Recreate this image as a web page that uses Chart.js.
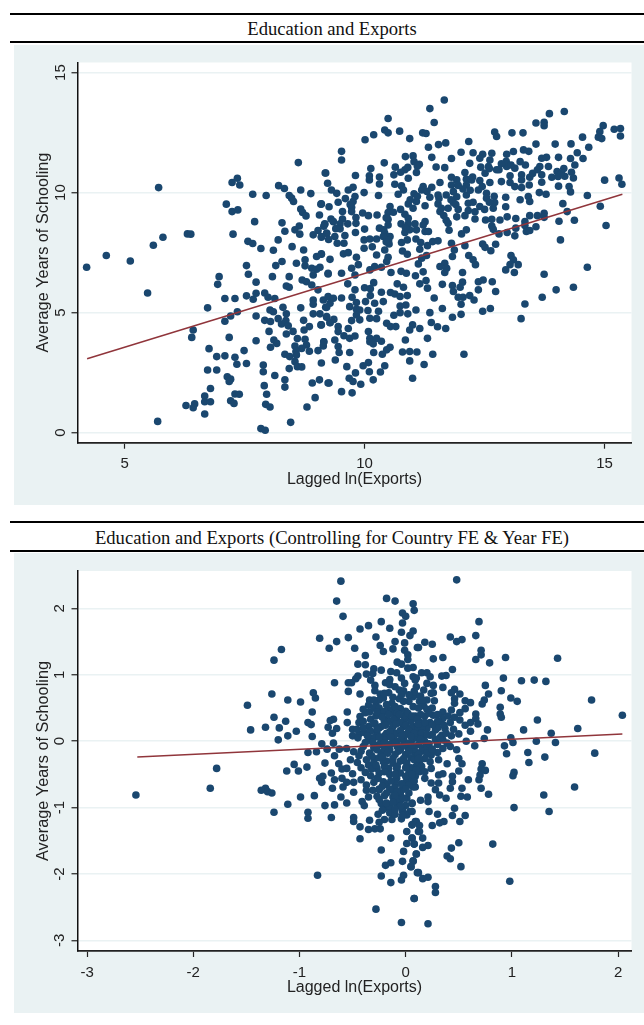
<!DOCTYPE html>
<html>
<head>
<meta charset="utf-8">
<title>Education and Exports</title>
<script src="https://cdn.jsdelivr.net/npm/chart.js@4/dist/chart.umd.min.js"></script>
<style>
  html, body { margin: 0; padding: 0; background: #fff; overflow: hidden; }
  #page { position: relative; width: 644px; height: 1025px; }
  .rule { position: absolute; left: 10px; right: 0; height: 2px; background: #000; }
  .heading { position: absolute; left: 20px; right: 0; text-align: center;
             font: 18.6px "Liberation Serif", serif; color: #111; white-space: nowrap; }
  .panel { position: absolute; left: 14px; right: 0; height: 460px; background: #eaf2f3; }
  canvas { position: absolute; left: 0; }
</style>
</head>
<body>
<div id="page">
  <div class="rule" style="top:13px"></div>
  <div class="heading" style="top:18px">Education and Exports</div>
  <div class="rule" style="top:41px"></div>
  <div class="panel" style="top:45px"></div>
  <canvas id="chartTop" width="644" height="460" style="top:45px" role="img" aria-label="Education and Exports"></canvas>

  <div class="rule" style="top:521px"></div>
  <div class="heading" style="top:527px">Education and Exports (Controlling for Country FE &amp; Year FE)</div>
  <div class="rule" style="top:550px"></div>
  <div class="panel" style="top:553px"></div>
  <canvas id="chartBottom" width="644" height="460" style="top:553px" role="img" aria-label="Education and Exports, controlling for fixed effects"></canvas>
</div>

<script>
/* values: [lagged ln exports, years of schooling] */
const X_LABEL = "Lagged ln(Exports)";
const Y_LABEL = "Average Years of Schooling";

const xTicksTop = [5, 10, 15];
const yTicksTop = [0, 5, 10, 15];
const fitLineTop = [[4.22, 3.08], [15.37, 9.93]];
const pointsTop = [
[8.62,11.25],[9.19,10.82],[7.35,10.6],[7.24,10.42],[7.4,10.32],[5.71,10.21],[8.21,10.29],[8.33,10.17],[8.67,10.11],[8.88,9.96],[7.67,9.93],[7.95,9.88],[8.43,9.88],[8.48,9.77],[8.52,9.63],[7.12,9.52],[9.09,9.52],[7.24,9.21],[7.36,9.28],[8.67,9.32],[8.71,9.17],[8.78,9.03],[9.06,9.07],[7.71,8.79],[8.28,8.74],[9.17,8.7],[8.64,8.61],[8.55,8.45],[8.34,8.39],[9.03,8.42],[7.26,8.27],[6.31,8.28],[6.38,8.27],[8.65,8.27],[5.8,8.14],[8.93,8.24],[9.1,8.14],[9.21,8.31],[8.2,8.03],[7.57,7.97],[7.67,7.88],[5.6,7.81],[8.49,7.75],[7.84,7.67],[8.1,7.6],[8.73,7.61],[4.62,7.38],[9.1,7.43],[9,7.34],[8.76,7.2],[5.12,7.15],
[4.21,6.89],[7.54,6.96],[8.15,6.96],[8.28,7.13],[8.58,7.06],[8.76,6.95],[8.9,6.85],[9,6.81],[9.07,6.89],[8.93,6.57],[9.24,6.61],[7.58,6.6],[8.08,6.5],[8.43,6.5],[6.97,6.5],[6.94,6.18],[7.74,6.27],[8.7,6.36],[8.79,6.29],[8.9,6.15],[8.37,6.11],[8.43,6.06],[5.48,5.82],[9.03,5.95],[7.74,5.81],[7.92,5.82],[7.54,5.7],[7.68,5.56],[7.99,5.64],[7.09,5.59],[7.3,5.59],[8.13,5.59],[8.93,5.53],[9.14,5.53],[9.24,5.67],[8.93,5.35],[8.3,5.22],[6.73,5.2],[8.67,5.2],[9.19,5.22],[8.03,5.11],[8.1,5.04],[7.35,5.04],[8.37,4.95],[8.93,4.95],[9.07,4.95],[7.21,4.86],[7.74,4.86],[9.21,4.81],[8.2,4.75],[7.09,4.64],[7.92,4.68],[8.04,4.63],[8.36,4.67],[8.73,4.68],[8.27,4.53],[9.09,4.49],[9.28,4.58],[8.41,4.45],[8.85,4.42],[6.43,4.28],[8.74,4.28],[8.01,4.22],[8.51,4.22],[8.37,4.11],[6.4,3.97],[7.18,3.97],[8.6,3.92],[8.76,3.89],[8.11,3.86],[7.74,3.83],[9.15,3.79],[8.17,3.72],[8.55,3.61],[8.79,3.65],[9.14,3.61],[8.04,3.56],[6.76,3.5],[8.69,3.51],[7.49,3.42],[8.85,3.39],[9.03,3.42],[8.57,3.38],[8.34,3.27],[8.44,3.17],[8.58,3.24],[6.92,3.17],[7.09,3.2],[7.3,3.14],[8.55,2.96],[9.1,2.9],[7.34,2.85],[7.54,2.88],[7.89,2.82],[8.6,2.75],[8.69,2.74],[8.43,2.67],[6.73,2.61],[6.92,2.61],[7.89,2.54],[8.13,2.38],[7.14,2.33],[7.21,2.23],[7.18,2.13],[8.34,2.2],[9.06,2.2],[8.91,2.07],[9.24,2.07],[7.91,1.96],[8.34,1.9],[6.79,1.84],[7.3,1.61],[7.39,1.6],[7.96,1.6],[6.67,1.53],[8.97,1.46],[6.67,1.29],[6.79,1.29],[7.21,1.33],[7.28,1.22],[7.94,1.18],[8.03,1.07],[6.46,1.2],[6.28,1.13],[6.43,1.04],[8.8,1.07],[6.67,0.78],[5.69,0.47],[8.46,0.43],[7.84,0.17],[7.93,0.1],
[11.66,13.86],[11.36,13.5],[11.45,12.92],[10.49,13.09],[10.42,12.61],[10.49,12.49],[10.73,12.56],[10.19,12.41],[10.01,12.2],[10.94,12.25],[11.21,12.49],[11.28,12.46],[11.33,11.89],[11.54,12],[11.69,12.07],[12.17,12.13],[9.52,11.72],[9.52,11.36],[12.71,12.52],[12.75,12.34],[13.07,12.49],[13.3,12.49],[13.57,12.9],[13.74,12.93],[13.74,12.79],[13.85,13.29],[14.16,13.38],[14.97,12.79],[14.9,12.54],[14.87,12.31],[14.94,12.25],[15.2,12.64],[15.33,12.67],[15.33,12.36],[14.54,12.31],[14.3,12.03],[13.97,12.02],[13.57,12.02],[14.67,11.89],[14.43,11.66],[14.29,11.42],[14.55,11.42],[14.04,11.47],[13.42,11.72],[13.31,11.78],[13.1,11.71],[12.96,11.6],[12.65,11.64],[12.46,11.6],[12.4,11.43],[12.26,11.66],[12.01,11.68],[11.81,11.42],[11.4,11.47],[11.01,11.53],[10.85,11.5],[11.03,11.29],[11.14,11.18],[10.41,11.24],[10.64,11.06],[10.13,11],[11.49,11.07],[11.67,11.04],[9.18,10.82],[9.81,10.71],[10.1,10.7],[10.31,10.65],[10.61,10.74],[10.84,10.95],[11.08,10.84],[10.91,10.6],[12.19,11.22],[12.42,11.06],[12.61,11.36],[12.58,11.09],[12.75,10.95],[12.96,11.09],[13.13,11.02],[13.24,11.29],[13.35,11.15],[13.69,11.43],[13.79,11.47],[13.65,11.09],[13.83,11.09],[14.01,10.88],[14.31,10.85],[14.38,11.15],[12.51,10.81],[12.09,10.84],[11.81,10.64],[11.92,10.53],[12.12,10.56],[12.23,10.53],[12.4,10.5],[12.61,10.42],[12.85,10.46],[13.03,10.7],[13.03,10.42],[13.27,10.74],[13.44,10.64],[13.27,10.53],[13.43,10.32],[13.13,10.25],[13.27,10.21],[13.69,10.43],[13.69,10.74],[13.9,10.64],[14.03,10.67],[14.17,10.68],[14.35,10.61],[14.04,10.27],[14.26,10.25],[14.29,10.03],[13.64,10],[13.78,9.93],[14.64,9.88],[15,10.52],[15.3,10.61],[15.36,10.35],[14.91,9.43],[14.13,9.54],[14.22,9.21],[15.03,8.63],[14.37,8.85],[14.05,8.81],[14.08,8.03],[14.64,6.89],[13.74,6.6],
[9.23,10.39],[9.31,10.11],[9.42,9.97],[9.66,10.11],[9.76,10.22],[9.99,10],[10.29,9.88],[10.1,10.53],[10.31,10.36],[10.63,10.35],[10.77,10.28],[10.81,10.11],[10.7,9.93],[11.03,9.95],[11.22,10.25],[11.4,10.22],[11.57,10.42],[11.19,10.11],[11.81,10.32],[11.85,10.04],[12.12,10.32],[12.37,10.11],[12.54,9.97],[11.92,9.83],[12.12,9.9],[11.53,9.9],[11.36,9.81],[9.8,9.84],[9.45,9.6],[9.1,9.53],[9.26,9.41],[9.76,9.63],[9.73,9.39],[10.53,9.42],[10.91,9.53],[11.08,9.63],[11.26,9.45],[11.53,9.53],[11.85,9.59],[12.16,9.56],[12.26,9.6],[12.54,9.77],[12.71,9.59],[12.94,9.81],[13.24,9.7],[13.44,9.63],[13.41,9.84],[12.94,9.41],[12.4,9.42],[12.68,9.35],[9.54,9.21],[9.73,9.21],[9.96,9.15],[10.08,9.04],[10.26,9.07],[10.49,9.17],[10.6,9.18],[10.84,9.1],[11.01,9.35],[11.57,9.21],[11.74,9.35],[11.92,8.99],[12.09,9.04],[12.3,8.9],[12.16,9.25],[12.52,8.86],[12.65,8.89],[12.82,8.86],[12.97,8.99],[13.15,8.92],[13.44,9.04],[13.6,9.04],[13.74,9.14],[13.74,8.97],[13.34,8.79],[9.3,8.9],[9.54,8.9],[9.82,8.96],[9.82,8.72],[9.49,8.7],[9.17,8.68],[9.65,8.7],[9.35,8.79],[10,8.48],[10.31,8.52],[10.49,8.89],[10.49,8.65],[10.76,8.7],[10.91,8.93],[10.91,8.7],[11.05,8.7],[11.26,8.79],[11.22,8.65],[11.74,8.72],[11.76,8.43],[12.65,8.61],[12.68,8.47],[13.15,8.52],[13.57,8.58],[13.34,8.63],[13.37,8.38],[13.44,8.42],[13.13,8.2],[12.97,8.34],[12.8,8.28],[12.12,8.45],[12.02,8.28],[9.81,8.34],[9.49,8.49],[9.21,8.31],[9.1,8.17],[9.38,8.17],[9.59,8.21],[10.42,8.31],[10.53,8.17],[10.84,8.34],[10.94,8.45],[11.08,8.45],[11.26,8.38],[11.33,8.38],[9.99,8.03],[10.11,8.07],[10.25,8.07],[10.39,8.17],[10.89,8.03],[10.77,7.92],[11.07,8.07],[11.17,7.92],[11.42,7.96],[11.53,7.99],[11.81,7.89],[12.09,7.79],[12.46,7.86],[12.51,7.72],[12.63,7.58],[12.73,7.85],[9.43,7.89],[9.57,7.89],[9.99,7.68],[10.16,7.74],[10.42,7.61],[10.51,7.86],[10.79,7.57],[10.89,7.43],[11.15,7.64],[11.31,7.79],[9.56,7.45],[9.66,7.5],[10.25,7.4],[11.87,7.61],[11.83,7.34],[11.29,7.38],[12.17,7.38],[13.05,7.38],[9.1,7.45],[9.28,7.22],[9.83,7.31],[10.49,7.31],[11.19,7.27],[12.26,7.2],[13.1,7.2],[11.12,7.03],[10.46,7.13],[12.31,7],[13.03,7],[13.2,7],[11.67,7.06],[9.87,7],[10.21,6.92],[9.73,6.85],[10.11,6.78],[10.35,6.89],[11.57,6.92],[11.71,6.85],[12.94,6.78],[13.12,6.67],[10.76,6.72],[10.87,6.64],[11.06,6.54],[11.22,6.7],[10.55,6.67],[9.24,6.64],[9.52,6.64],[9.8,6.57],[11.67,6.67],[12.04,6.67],
[9.65,6.2],[10.19,6.25],[10,6.04],[9.8,5.95],[10.12,6],[10.12,5.71],[10.35,5.85],[10.54,5.84],[10.68,6.2],[10.81,6.06],[10.63,5.78],[10.74,5.67],[10.89,5.71],[11.15,6.2],[11.28,6.34],[11.31,6.02],[11.62,6.18],[11.83,6.13],[12.04,6.27],[11.99,6.06],[11.85,5.88],[12.37,6.29],[12.47,6.36],[12.66,6.29],[12.37,5.95],[12.73,5.88],[11.95,5.64],[12.05,5.64],[12.19,5.71],[12.28,5.53],[11.45,5.61],[13.7,5.64],[13.99,5.95],[14.35,6.06],[13.34,5.36],[12.62,5.17],[12.46,5.06],[12.01,5.35],[12.01,4.93],[11.83,4.81],[11.62,5.17],[11.36,5],[11.07,5.11],[10.9,4.95],[10.86,5.32],[10.74,5.28],[10.74,5],[10.61,4.89],[13.26,4.75],[9.52,5.61],[9.35,5.6],[9.28,5.39],[9.21,5.22],[9.74,5.64],[10.02,5.46],[9.83,5.42],[9.69,5.25],[9.83,5.14],[9.9,5.11],[10.21,5.39],[10.39,5.46],[10.07,5.09],[10.29,5.06],[10.11,4.77],[10.25,4.75],[9.9,4.7],[9.73,4.67],[9.83,4.9],[9.21,4.84],[9.36,4.72],[9.28,4.59],[9.1,4.49],[9.45,4.42],[9.66,4.34],[9.45,4.21],[9.57,4.04],[9.69,3.93],[9.8,4.03],[9.38,3.86],[9.15,3.79],[9.45,3.59],[10.46,4.56],[10.54,4.42],[10.65,4.42],[11,4.49],[10.94,4.28],[11.15,4.34],[11.39,4.59],[11.52,4.41],[11.69,4.34],[10.08,4.21],[10.11,3.93],[10.35,3.81],[10.25,3.93],[10.11,3.79],[10.18,3.7],[10.53,3.56],[10.46,3.45],[10.37,3.27],[10.85,3.86],[11.31,3.93],[10.79,3.36],[10.94,3.38],[11.09,3.36],[11.42,3.27],[12.07,3.27],[10.19,3.34],[9.69,3.34],[9.47,3.34],[9.39,3.03],[10.94,2.99],[11.24,2.84],[10.08,2.92],[9.97,2.79],[10.42,2.79],[9.63,2.75],[10.1,2.54],[10.33,2.53],[9.81,2.49],[9.68,2.27],[11,2.27],[10.18,2.2],[9.76,2.13],[9.92,2.02],[9.26,2.07],[9.52,1.71],[9.74,1.66],
[11.7,9.9],[11.8,9.7],[11.9,9.5],[11.6,9.35],[11.65,9.05],[11.7,8.85],[11.95,9.3],[12.3,9.2],[12.5,9.3],[12.6,9.6],[12.7,9.85],[12.45,10.25],[12.2,10.1],[12.05,10.15],[11.95,10.3],[11.3,10.05],[11.1,9.85],[10.95,9.7],[10.75,9.3],[10.45,8.95],[10.4,8.45],[10.5,8.0],[10.45,7.95],[10.85,8.55],[9.7,9.5],[9.6,9.75],[9.4,8.5],[9.25,8.05],[9.15,8.6],[11.55,9.75],[12.25,10.65],[12.95,11.3],[13.05,11.15],[12.85,11.2],[12.8,10.95],[13.5,10.8],[13.6,10.95],[14.1,10.8],[14.15,11.0],[12.6,11.0],[11.1,11.1],[10.9,11.05],[10.75,10.85]
];

const xTicksBottom = [-3, -2, -1, 0, 1, 2];
const yTicksBottom = [-3, -2, -1, 0, 1, 2];
const fitLineBottom = [[-2.527, -0.238], [2.04, 0.108]];
const pointsBottom = [
[-2.54,-0.81],
[-0.61,2.41],[-0.65,2.11],[-0.18,2.15],[-0.1,2.11],[0.07,2.07],[-0.59,1.88],[0.08,1.97],[-0.03,1.93],[0,1.88],[-0.23,1.8],[-0.03,1.78],[-0.35,1.74],[-0.43,1.69],[-0.15,1.7],[-0.04,1.64],[0.07,1.66],[0.04,1.59],[-0.28,1.57],[-0.81,1.55],[-0.54,1.56],[-0.65,1.5],[-0.1,1.5],[-0.01,1.48],[-1.17,1.38],[-0.72,1.4],[-0.48,1.4],[-0.24,1.44],[-0.12,1.39],[-0.21,1.35],[-0.01,1.37],[0.11,1.41],[-1.24,1.22],[-0.38,1.29],[0.02,1.3],[0.02,1.23],[-0.45,1.16],[-0.38,1.15],[-0.08,1.19],[-0.04,1.16],[0.07,1.11],[0.02,1.1],[-0.3,1.09],[-0.23,1.07],[-0.14,1.05],[-0.085,1.03],[-0.37,1.01],[-0.31,1.02],[-0.45,0.98],[-0.47,0.94],[-0.33,0.92],[-0.04,0.95],[0.07,0.97],[-0.15,0.93],[-0.19,0.88],[-0.15,0.85],[-0.67,0.88],[-0.54,0.88],[-0.51,0.88],[-0.29,0.84],[-0.01,0.87],[0.09,0.92],[-0.54,0.75],[-0.43,0.71],[-0.29,0.76],[-0.24,0.71],[-0.16,0.73],[-0.06,0.77],[-0.02,0.76],[-0.87,0.73],[-1.26,0.71],[-0.85,0.65],[-1.11,0.62],[-0.99,0.59],[-1.49,0.54],[-0.34,0.62],[-0.21,0.65],[-0.06,0.64],[0.07,0.67],[-0.35,0.54],[-0.28,0.54],[-0.13,0.57],[-0.05,0.49],[0.07,0.52],[-0.88,0.44],[-0.55,0.44],[-0.34,0.44],[-0.24,0.41],[-0.15,0.47],[-0.1,0.42],[0.09,0.38],[-1.24,0.36],[-0.68,0.33],[-0.71,0.31],[-0.43,0.37],[-0.38,0.43],[-1.13,0.3],[-0.92,0.28],[-0.89,0.25],[-0.55,0.28],[-0.44,0.28],[-0.29,0.27],[-0.18,0.32],[-0.086,0.32],[0,0.34],[-1.32,0.21],[-1.19,0.2],[-0.73,0.21],[-0.65,0.19],[-0.5,0.18],[-0.35,0.22],[-0.23,0.22],[-0.13,0.19],[-0.02,0.22],[0.09,0.22],[-1.46,0.17],[-1.03,0.15],[-0.69,0.12],[-0.44,0.11],[-0.39,0.13],[-0.27,0.12],[-0.18,0.12],[-0.086,0.12],[0.02,0.12],[-1.11,0.08],[-0.88,0.07],[-0.5,0.08],[-1.2,0.02],[-0.68,-0.03],[-0.79,-0.04],[-0.34,0.02],[-0.23,0.02],[-0.12,0.04],[-0.02,0.02],[0.07,0.04],
[-0.92,-0.17],[-0.84,-0.16],[-0.74,-0.12],[-0.625,-0.12],[-0.556,-0.11],[-0.49,-0.16],[-0.67,-0.22],[-0.52,-0.28],[-0.455,-0.32],[-0.4,-0.08],[-0.34,-0.18],[-0.3,-0.26],[-0.23,-0.18],[-0.15,-0.13],[-0.05,-0.13],[0.07,-0.13],[-1.78,-0.41],[-1.05,-0.35],[-0.93,-0.39],[-0.76,-0.33],[-1.12,-0.45],[-1.01,-0.45],[-0.63,-0.34],[-0.6,-0.42],[-0.555,-0.41],[-0.5,-0.49],[-0.7,-0.48],[-0.38,-0.47],[-0.35,-0.36],[-0.27,-0.41],[-0.21,-0.31],[-0.16,-0.41],[-0.085,-0.41],[0.01,-0.33],[0.1,-0.38],[-0.81,-0.56],[-0.78,-0.53],[-0.79,-0.62],[-0.67,-0.58],[-0.6,-0.56],[-0.42,-0.58],[-0.555,-0.62],[-0.49,-0.62],[-0.27,-0.56],[-0.21,-0.61],[-0.085,-0.56],[0.04,-0.56],[-1.84,-0.71],[-1.32,-0.71],[-1.36,-0.74],[-1.3,-0.76],[-1.26,-0.78],[-0.69,-0.71],[-0.59,-0.69],[-0.37,-0.66],[-0.49,-0.77],[-0.37,-0.74],[-0.31,-0.74],[-0.25,-0.73],[-0.27,-0.83],[-0.13,-0.74],[-0.04,-0.74],[0.07,-0.69],[-0.99,-0.84],[-0.86,-0.82],[-0.61,-0.84],[-0.35,-0.84],[-0.12,-0.84],[-0.05,-0.89],[0.01,-0.86],[-1.11,-0.95],[-0.555,-0.93],[-0.41,-0.91],[-0.39,-0.97],[-0.23,-0.94],[0.06,-0.94],[-0.76,-0.97],[-0.67,-0.96],[-0.2,-1.01],[-0.15,-0.99],[-1.24,-1.07],[-0.92,-1.07],[-0.26,-1.1],[-0.15,-1.08],[0.04,-1.06],[0.01,-1.11],[-0.92,-1.16],[-0.7,-1.15],[-0.49,-1.15],[-0.49,-1.21],[-0.34,-1.19],[-0.2,-1.18],[-0.13,-1.18],[-0.04,-1.17],[0.1,-1.21],[-0.25,-1.22],[-0.43,-1.29],[-0.35,-1.33],[-0.29,-1.32],[-0.24,-1.32],[0.06,-1.26],[0.01,-1.36],[0.12,-1.36],[-0.43,-1.47],[-0.14,-1.46],[0.06,-1.46],[0.01,-1.54],[0.08,-1.55],[-0.23,-1.64],[-0.02,-1.66],[0.1,-1.7],[-0.19,-1.87],[-0.14,-1.83],[-0.03,-1.81],[0.07,-1.8],[0.05,-1.89],[-0.83,-2.02],[-0.23,-2.03],[-0.02,-2.02],[-0.04,-2.09],[-0.14,-2.13],[0.11,-1.98],[0.08,-2.37],[-0.28,-2.53],[-0.04,-2.73],
[0.48,2.43],[0.69,1.8],[0.66,1.59],[0.42,1.57],[0.48,1.5],[0.53,1.53],[0.18,1.49],[0.25,1.46],[0.12,1.41],[0.71,1.37],[0.71,1.3],[0.26,1.24],[0.35,1.26],[0.66,1.23],[0.79,1.18],[0.94,1.26],[1.43,1.25],[0.44,1.08],[0.15,1.03],[0.2,1.03],[0.34,0.98],[0.38,0.99],[0.23,0.97],[0.1,0.95],[0.92,0.95],[1.09,0.91],[1.21,0.92],[1.32,0.9],[0.2,0.87],[0.26,0.84],[0.35,0.81],[0.75,0.84],[0.9,0.76],[0.17,0.77],[0.46,0.78],[0.43,0.73],[0.26,0.73],[0.51,0.71],[0.78,0.71],[0.09,0.7],[0.99,0.65],[0.46,0.64],[0.56,0.61],[0.61,0.58],[0.74,0.62],[0.72,0.56],[0.27,0.61],[0.13,0.6],[0.46,0.57],[1.05,0.6],[1.75,0.62],[0.17,0.53],[0.89,0.51],[0.56,0.49],[0.43,0.47],[0.2,0.48],[0.35,0.44],[0.51,0.43],[0.89,0.41],[0.9,0.36],[0.66,0.41],[2.04,0.39],[1.24,0.32],[0.26,0.39],[0.66,0.34],[0.51,0.32],[0.35,0.34],[0.13,0.29],[0.23,0.28],[0.31,0.29],[0.42,0.28],[0.61,0.28],[0.68,0.26],[0.56,0.24],[0.77,0.17],[1.11,0.17],[1.62,0.19],[0.61,0.15],[0.2,0.19],[0.28,0.17],[0.37,0.19],[0.45,0.18],[1.37,0.12],[0.5,0.11],[0.1,0.17],[0.13,0.09],[0.23,0.09],[0.34,0.09],[0.43,0.08],[0.74,0.04],[0.99,0.05],[0.57,0],[1.23,0],[1.41,-0.02],[1.01,-0.02],[0.18,-0.01],[0.28,0.02],[0.39,-0.03],[0.65,-0.07],[0.93,-0.07],[0.17,-0.11],[0.23,-0.13],[0.35,-0.11],[0.48,-0.13],[1.15,-0.17],[1.78,-0.18],[0.95,-0.19],[1.31,-0.24],[0.09,-0.18],[0.24,-0.21],[0.42,-0.08],[0.5,-0.26],[0.31,-0.28],[0.13,-0.33],[0.23,-0.31],[0.39,-0.34],[0.53,-0.34],[0.72,-0.34],[1.16,-0.32],[0.24,-0.41],[0.71,-0.42],[0.75,-0.44],[0.5,-0.45],[0.13,-0.46],[0.31,-0.51],[0.35,-0.49],[1.02,-0.47],[1.01,-0.52],[0.7,-0.51],[0.44,-0.53],[0.44,-0.61],[0.59,-0.58],[0.69,-0.58],[0.18,-0.56],[0.09,-0.53],[0.24,-0.63],[0.31,-0.63],[0.09,-0.69],[0.42,-0.71],[0.53,-0.71],[0.71,-0.71],[1.59,-0.69],[0.28,-0.73],[0.32,-0.81],[0.78,-0.8],[1.3,-0.81],[0.52,-0.83],[0.58,-0.84],[0.21,-0.84],[0.38,-0.86],[0.14,-0.89],[0.21,-0.91],[0.06,-0.93],[1.02,-1],[0.46,-1.01],[1.35,-1.06],[0.06,-1.06],[0.22,-1.06],[0.3,-1.1],[0.44,-1.12],[0.56,-1.12],[0.51,-1.21],[0.36,-1.21],[0.32,-1.23],[0.09,-1.21],[0.25,-1.27],[0.06,-1.26],[0.13,-1.27],[0.13,-1.36],[0.16,-1.46],[0.06,-1.46],[0.5,-1.53],[0.82,-1.55],[0.08,-1.55],[0.21,-1.57],[0.16,-1.6],[0.43,-1.61],[0.1,-1.7],[0.39,-1.73],[0.42,-1.77],[0.07,-1.81],[0.52,-1.89],[0.05,-1.89],[0.12,-1.98],[0.21,-2.05],[0.16,-2.07],[0.98,-2.11],[0.28,-2.19],[0.28,-2.28],[0.08,-2.37],[0.21,-2.75],
[-0.3,0.5],[-0.25,0.5],[-0.2,0.45],[-0.18,0.55],[-0.1,0.52],[0,0.45],[0.03,0.6],[0.12,0.5],[-0.2,0.3],[-0.25,0.2],[-0.15,0.3],[-0.05,0.28],[0.05,0.3],[0.15,0.2],[0.18,0.38],[-0.3,0.05],[-0.2,0.08],[-0.1,0.1],[0,0.1],[0.1,0.05],[0.17,0.03],[0.25,0.1],[-0.25,-0.05],[-0.15,-0.05],[-0.08,0.0],[0.03,-0.03],[0.12,-0.05],[0.2,-0.08],[0.3,-0.05],[-0.3,-0.1],[-0.2,-0.12],[-0.1,-0.2],[0,-0.2],[0.05,-0.25],[0.15,-0.15],[0.3,-0.17],[-0.25,-0.25],[-0.18,-0.3],[-0.05,-0.3],[-0.3,-0.33],[-0.12,-0.33],[0.05,-0.4],[0.15,-0.38],[-0.25,-0.48],[-0.15,-0.5],[-0.05,-0.48],[0.03,-0.48],[-0.18,-0.65],[-0.1,-0.68],[0,-0.62],[0.08,-0.6],[-0.3,-0.62],[-0.2,-0.82],[-0.05,-0.8],[0.03,-0.78],[-0.08,-0.97],[0,-0.97],[-0.1,-1.1],[-0.03,-1.05],[-0.4,0.2],[-0.45,0.05],[-0.42,-0.15],[-0.33,0.33],[-0.12,0.66],[-0.08,0.42],[-0.02,0.6],[0.08,0.75],[0.14,0.68],[0.4,0.38],[0.46,0.36],[0.3,0.2],[0.15,0.12],[0.35,0.02],[0.08,-0.12],[-0.02,0.38],[-0.12,0.22],[-0.2,0.02],[-0.08,-0.08],[0.02,-0.1],[-0.32,-0.42],[-0.1,-0.6],[-0.25,-0.72],[-0.18,-0.93],[-0.08,-0.87],[-0.25,0.62],[-0.28,0.38],[0.2,0.62],[0.25,0.5],[0.3,0.4],[0.14,0.4],
[-0.27,0.44],[-0.22,0.36],[-0.16,0.4],[-0.11,0.33],[-0.06,0.4],[0.02,0.42],[0.06,0.38],[0.11,0.33],[-0.3,0.26],[-0.19,0.24],[-0.09,0.26],[0,0.24],[0.05,0.2],[0.12,0.26],[0.18,0.28],[-0.33,0.15],[-0.27,0.18],[-0.15,0.14],[-0.05,0.16],[0.03,0.16],[0.08,0.12],[0.2,0.1],[-0.36,0.08],[-0.25,0.06],[-0.14,0.06],[-0.04,0.08],[0.05,0.07],[0.14,0.03],[-0.31,-0.02],[-0.2,-0.03],[-0.1,-0.03],[-0.02,-0.06],[0.06,-0.06],[0.22,-0.04],[-0.27,-0.13],[-0.17,-0.18],[-0.07,-0.15],[0.03,-0.15],[0.12,-0.2],[0.2,-0.18],[-0.32,-0.22],[-0.22,-0.24],[-0.12,-0.26],[-0.02,-0.26],[0.08,-0.28],[0.18,-0.26],[-0.28,-0.36],[-0.2,-0.38],[-0.08,-0.38],[0,-0.4],[0.1,-0.43],[-0.33,-0.52],[-0.2,-0.46],[-0.1,-0.5],[0,-0.53],[0.06,-0.5],[-0.26,-0.56],[-0.14,-0.6],[-0.04,-0.64],[0.03,-0.66],[-0.22,-0.68],[-0.15,-0.72],[-0.08,-0.76],[0,-0.72],[-0.18,-0.78],[-0.1,-0.82],[-0.02,-0.86],[-0.25,-0.88],[-0.12,-0.92],[-0.05,-0.98],[-0.22,-1.04],[-0.1,-1.03],[-0.03,-1.12],[-0.4,0.48],[-0.4,0.3],[-0.46,0.18],[-0.38,-0.02],[-0.44,-0.22],[-0.37,-0.28],[-0.42,-0.4],[-0.3,0.62],[-0.2,0.72],[-0.1,0.82],[-0.04,0.7],[0.03,0.7],[0.1,0.82],[0.16,0.62],[0.24,0.72],[0.22,0.42],[0.3,0.3],[0.36,0.24],[0.25,0.25],[0.38,0.12],[0.32,0.05],[0.25,-0.12],[0.12,-0.26],[0.18,-0.46]
];

const NAVY = "#1a476f";
const CRANBERRY = "#90353b";
const PANEL = "#eaf2f3";
const SANS = '"Liberation Sans", Arial, sans-serif';

/* the plot region is white on the tinted panel */
const whitePlot = {
  id: "whitePlot",
  beforeDraw(chart) {
    const a = chart.chartArea, c = chart.ctx;
    c.save();
    c.fillStyle = "#fff";
    c.fillRect(a.left, a.top, a.right - a.left, a.bottom - a.top);
    c.restore();
  }
};

function makeChart(id, points, line, xTicks, yTicks, opt) {
  return new Chart(document.getElementById(id), {
    type: "scatter",
    plugins: [whitePlot],
    data: {
      datasets: [
        { data: line.map(p => ({ x: p[0], y: p[1] })), showLine: true, borderColor: CRANBERRY,
          borderWidth: 1.5, pointRadius: 0, fill: false },
        { data: points.map(p => ({ x: p[0], y: p[1] })), backgroundColor: NAVY, borderWidth: 0, pointRadius: 3.8 }
      ]
    },
    options: {
      responsive: false,
      animation: false,
      layout: { padding: { left: 14, right: 12.5, top: opt.top, bottom: 0 } },
      plugins: { legend: { display: false }, tooltip: { enabled: false } },
      scales: {
        x: {
          type: "linear", min: opt.xMin, max: opt.xMax,
          afterBuildTicks: s => { s.ticks = xTicks.map(v => ({ value: v })); },
          afterFit: s => { s.height = opt.xHeight; },
          grid: { drawOnChartArea: false, tickLength: 6, tickColor: "#222", tickWidth: 1.2 },
          border: { color: "#222", width: 1.8 },
          ticks: { color: "#222", font: { family: SANS, size: 15 }, padding: opt.xPad, maxRotation: 0 },
          title: { display: true, text: X_LABEL, color: "#222", font: { family: SANS, size: 16 }, padding: { top: 0, bottom: 16 } }
        },
        y: {
          type: "linear", min: opt.yMin, max: opt.yMax,
          afterBuildTicks: s => { s.ticks = yTicks.map(v => ({ value: v })); },
          afterFit: s => { s.width = 63.5; },
          grid: { color: PANEL, lineWidth: 1.5, tickLength: 6, tickColor: "#222", tickWidth: 1.2 },
          border: { color: "#111", width: 1.5 },
          ticks: { color: "#222", font: { family: SANS, size: 15 }, padding: opt.yPad, minRotation: 90, maxRotation: 90, crossAlign: "center" },
          title: { display: true, text: Y_LABEL, color: "#222", font: { family: SANS, size: 16.3 }, padding: { top: 19.5, bottom: 0 } }
        }
      }
    }
  });
}

makeChart("chartTop", pointsTop, fitLineTop, xTicksTop, yTicksTop,
  { xMin: 4.02, xMax: 15.56, yMin: -0.417, yMax: 15.42, top: 17.5, xHeight: 62.3, xPad: 6, yPad: 2 });
makeChart("chartBottom", pointsBottom, fitLineBottom, xTicksBottom, yTicksBottom,
  { xMin: -3.09, xMax: 2.126, yMin: -3.16, yMax: 2.563, top: 18, xHeight: 62, xPad: 7, yPad: 5 });
</script>
</body>
</html>
